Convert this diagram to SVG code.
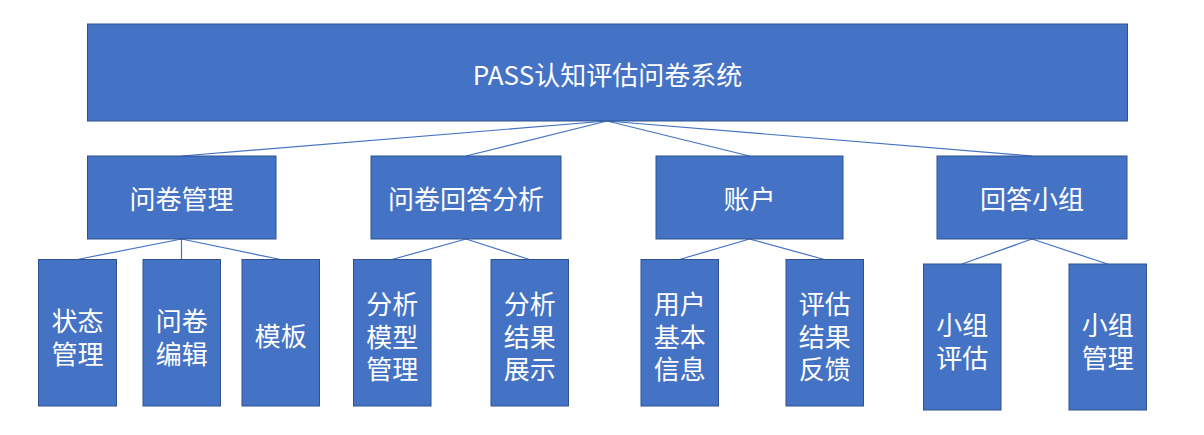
<svg xmlns="http://www.w3.org/2000/svg" width="1204" height="435" viewBox="0 0 1204 435">
<style>
.box{fill:#4472C4;stroke:#2F528F;stroke-width:1}
.t{fill:#FFFFFF;font-family:"Microsoft YaHei","Noto Sans CJK SC","Noto Sans",sans-serif;font-size:26px;text-anchor:middle;dominant-baseline:central}
.c{stroke:#4472C4;stroke-width:1.2;fill:none}
</style>
<rect width="1204" height="435" fill="#FFFFFF"/>
<g id="connectors">
<line class="c" x1="607" y1="121" x2="181.5" y2="156"/>
<line class="c" x1="607" y1="121" x2="466" y2="156"/>
<line class="c" x1="607" y1="121" x2="749.5" y2="156"/>
<line class="c" x1="607" y1="121" x2="1032" y2="156"/>
<line class="c" x1="181.5" y1="239" x2="77.3" y2="259.5"/>
<line class="c" x1="181.5" y1="239" x2="181.5" y2="259.5"/>
<line class="c" x1="181.5" y1="239" x2="280.5" y2="259.5"/>
<line class="c" x1="466" y1="239" x2="392" y2="259.5"/>
<line class="c" x1="466" y1="239" x2="529.5" y2="259.5"/>
<line class="c" x1="749.5" y1="239" x2="679.5" y2="259.5"/>
<line class="c" x1="749.5" y1="239" x2="824.5" y2="259.5"/>
<line class="c" x1="1032" y1="239" x2="962" y2="264"/>
<line class="c" x1="1032" y1="239" x2="1107.5" y2="264"/>
</g>
<g id="root">
<rect class="box" x="87.5" y="24" width="1040" height="97"/>
<text class="t" x="607.5" y="73">PASS认知评估问卷系统</text>
</g>
<g id="n-wjgl">
<rect class="box" x="87.5" y="156" width="188.5" height="83"/>
<text class="t" x="181.5" y="197.5">问卷管理</text>
</g>
<g id="n-wjhdfx">
<rect class="box" x="371" y="156" width="190" height="83"/>
<text class="t" x="466" y="197.5">问卷回答分析</text>
</g>
<g id="n-zh">
<rect class="box" x="656" y="156" width="187" height="83"/>
<text class="t" x="749.5" y="197.5">账户</text>
</g>
<g id="n-hdxz">
<rect class="box" x="937" y="156" width="190" height="83"/>
<text class="t" x="1032" y="197.5">回答小组</text>
</g>
<g id="n-ztgl">
<rect class="box" x="38.5" y="259.5" width="78" height="146.5"/>
<text class="t" x="77.5" y="319">状态<tspan x="77.5" dy="32.5">管理</tspan></text>
</g>
<g id="n-wjbj">
<rect class="box" x="143" y="259.5" width="77.5" height="146.5"/>
<text class="t" x="181.7" y="319">问卷<tspan x="181.7" dy="32.5">编辑</tspan></text>
</g>
<g id="n-mb">
<rect class="box" x="242" y="259.5" width="77.5" height="146.5"/>
<text class="t" x="280.7" y="334">模板</text>
</g>
<g id="n-fxmxgl">
<rect class="box" x="353.5" y="259.5" width="77.5" height="146.5"/>
<text class="t" x="392.2" y="302">分析<tspan x="392.2" dy="32.5">模型</tspan><tspan x="392.2" dy="32.5">管理</tspan></text>
</g>
<g id="n-fxjgzs">
<rect class="box" x="491" y="259.5" width="77.5" height="146.5"/>
<text class="t" x="529.7" y="302">分析<tspan x="529.7" dy="32.5">结果</tspan><tspan x="529.7" dy="32.5">展示</tspan></text>
</g>
<g id="n-yhjbxx">
<rect class="box" x="641" y="259.5" width="77.5" height="146.5"/>
<text class="t" x="679.7" y="302">用户<tspan x="679.7" dy="32.5">基本</tspan><tspan x="679.7" dy="32.5">信息</tspan></text>
</g>
<g id="n-pgjgfk">
<rect class="box" x="786" y="259.5" width="77.5" height="146.5"/>
<text class="t" x="824.7" y="302">评估<tspan x="824.7" dy="32.5">结果</tspan><tspan x="824.7" dy="32.5">反馈</tspan></text>
</g>
<g id="n-xzpg">
<rect class="box" x="923.5" y="264" width="77.5" height="146"/>
<text class="t" x="962.2" y="323">小组<tspan x="962.2" dy="32.5">评估</tspan></text>
</g>
<g id="n-xzgl">
<rect class="box" x="1069" y="264" width="77.5" height="146"/>
<text class="t" x="1107.7" y="323">小组<tspan x="1107.7" dy="32.5">管理</tspan></text>
</g>
</svg>
